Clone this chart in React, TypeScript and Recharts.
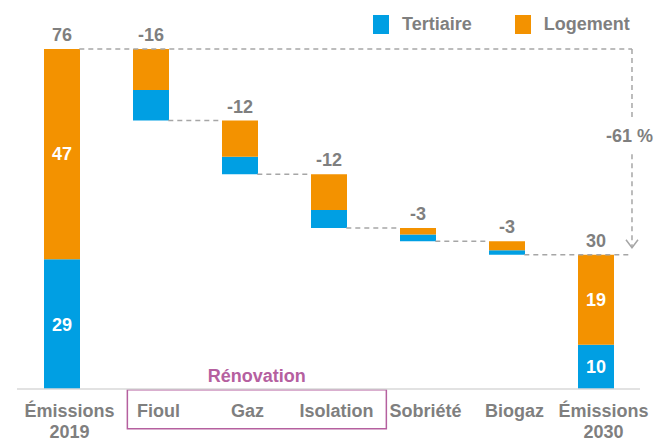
import React from 'react'
import { ComposedChart, Bar, XAxis, YAxis, LabelList, ReferenceLine, ReferenceArea, Legend } from 'recharts'

const categories = ['Émissions\n2019', 'Fioul', 'Gaz', 'Isolation', 'Sobriété', 'Biogaz', 'Émissions\n2030']
const isTotal = [true, false, false, false, false, false, true]
const tertiaire = [29, 6.8, 3.9, 4, 1.5, 1, 9.9]
const logement = [47, 9.2, 8.1, 8, 1.5, 2, 20.1]
const topLabels = ['76', '-16', '-12', '-12', '-3', '-3', '30']
const tertiaireLabels = ['29', '', '', '', '', '', '10']
const logementLabels = ['47', '', '', '', '', '', '19']
const legendOrder = ['Tertiaire', 'Logement']
const xTicks = [0, 1, 2, 3, 4, 5, 6]
const variationLabel = '-61 %'
const groupLabel = 'Rénovation'

const BLUE = '#009fe3'
const ORANGE = '#f39200'
const GREY = '#7f7f7f'
const DASH = '#a6a6a6'
const PURPLE = '#b5609f'
const FONT = "'Liberation Sans', Arial, sans-serif"

// half a bar in x units, and where the vertical "-61 %" arrow sits
const HALF = 0.2
const ARROW_X = 6.41

// waterfall table: invisible base + the two stacked parts
let running = 0
const data = categories.map((name, i) => {
  const step = tertiaire[i] + logement[i]
  const base = isTotal[i] ? 0 : running - step
  running = isTotal[i] ? step : base
  return {
    idx: i,
    name,
    base,
    tertiaire: tertiaire[i],
    logement: logement[i],
    level: running,
    topLabel: topLabels[i],
    tLabel: tertiaireLabels[i],
    lLabel: logementLabels[i],
  }
})

const connectors = data.slice(0, 6).map((d, i) => ({
  from: i + HALF,
  to: i === 0 || i === 5 ? ARROW_X : i + 1 - HALF,
  y: d.level,
}))

function CategoryTick({ x, y, payload }: any) {
  const lines = categories[payload.value].split('\n')
  const cx = x + 8
  return (
    <text x={cx} y={y} textAnchor="middle" fill={GREY} fontSize={18} fontWeight="bold" fontFamily={FONT}>
      {lines.map((l, k) => (
        <tspan key={k} x={cx} dy={k === 0 ? 27.5 : 21}>
          {l}
        </tspan>
      ))}
    </text>
  )
}

function ArrowShape({ x1, y1, y2 }: any) {
  const ty = y1 + 0.42 * (y2 - y1)
  return (
    <g>
      <line x1={x1} y1={y1} x2={x1} y2={ty - 16} stroke={DASH} strokeWidth={1.5} strokeDasharray="5 4" />
      <line x1={x1} y1={ty + 19} x2={x1} y2={y2 - 8} stroke={DASH} strokeWidth={1.5} strokeDasharray="5 4" />
      <polyline
        points={`${x1 - 6},${y2 - 15} ${x1},${y2 - 7} ${x1 + 6},${y2 - 15}`}
        fill="none"
        stroke={DASH}
        strokeWidth={1.5}
      />
      <text x={x1 - 2.5} y={ty + 6.5} textAnchor="middle" fill={GREY} fontSize={18} fontWeight="bold" fontFamily={FONT}>
        {variationLabel}
      </text>
    </g>
  )
}

function LegendBox({ payload }: any) {
  const items = (payload || [])
    .filter((p: any) => p.type !== 'none')
    .sort((a: any, b: any) => legendOrder.indexOf(a.value) - legendOrder.indexOf(b.value))
  return (
    <div style={{ position: 'absolute', left: 373, top: 15, display: 'flex', alignItems: 'center', height: 19 }}>
      {items.map((p: any) => (
        <div key={p.value} style={{ display: 'flex', alignItems: 'center', marginRight: 43 }}>
          <span style={{ width: 16, height: 19, background: p.color, display: 'inline-block', marginRight: 13 }} />
          <span style={{ color: GREY, fontSize: 18, fontWeight: 'bold', fontFamily: FONT, lineHeight: '19px' }}>
            {p.value}
          </span>
        </div>
      ))}
    </div>
  )
}

export default function App() {
  return (
    <div style={{ position: 'absolute', left: 0, top: 0, width: 654, height: 440, fontFamily: FONT, background: '#fff' }}>
      <ComposedChart width={654} height={440} data={data} margin={{ top: 31, right: 14, bottom: 0, left: 17 }}>
        <XAxis
          dataKey="idx"
          type="number"
          domain={[-0.5, 6.5]}
          ticks={xTicks}
          interval={0}
          height={51}
          tickSize={0}
          tickMargin={0}
          tickLine={false}
          axisLine={{ stroke: '#d9d9d9', strokeWidth: 1.5 }}
          tick={<CategoryTick />}
        />
        <YAxis hide domain={[0, 80]} />
        <Legend
          layout="horizontal"
          verticalAlign="middle"
          align="center"
          wrapperStyle={{ position: 'absolute', left: 0, top: 0, width: 654, height: 0 }}
          content={<LegendBox />}
        />
        {connectors.map((c, i) => (
          <ReferenceLine
            key={i}
            segment={[
              { x: c.from, y: c.y },
              { x: c.to, y: c.y },
            ]}
            stroke={DASH}
            strokeWidth={1.5}
            strokeDasharray="5 4"
          />
        ))}
        <ReferenceLine
          segment={[
            { x: ARROW_X, y: data[0].level },
            { x: ARROW_X, y: data[5].level },
          ]}
          shape={<ArrowShape />}
        />
        <ReferenceArea
          x1={0.74}
          x2={3.65}
          y1={-8.9}
          y2={-0.15}
          ifOverflow="visible"
          fill="none"
          fillOpacity={0}
          stroke={PURPLE}
          strokeWidth={1.5}
          label={{ value: groupLabel, position: 'top', offset: 8, fill: PURPLE, fontSize: 18, fontWeight: 'bold' }}
        />
        <Bar dataKey="base" stackId="w" fill="transparent" barSize={36} legendType="none" isAnimationActive={false} />
        <Bar dataKey="tertiaire" name="Tertiaire" stackId="w" fill={BLUE} barSize={36} isAnimationActive={false}>
          <LabelList dataKey="tLabel" position="center" fill="#fff" fontSize={18} fontWeight="bold" />
        </Bar>
        <Bar dataKey="logement" name="Logement" stackId="w" fill={ORANGE} barSize={36} isAnimationActive={false}>
          <LabelList dataKey="lLabel" position="center" fill="#fff" fontSize={18} fontWeight="bold" />
          <LabelList dataKey="topLabel" position="top" offset={8} fill={GREY} fontSize={18} fontWeight="bold" />
        </Bar>
      </ComposedChart>
    </div>
  )
}
